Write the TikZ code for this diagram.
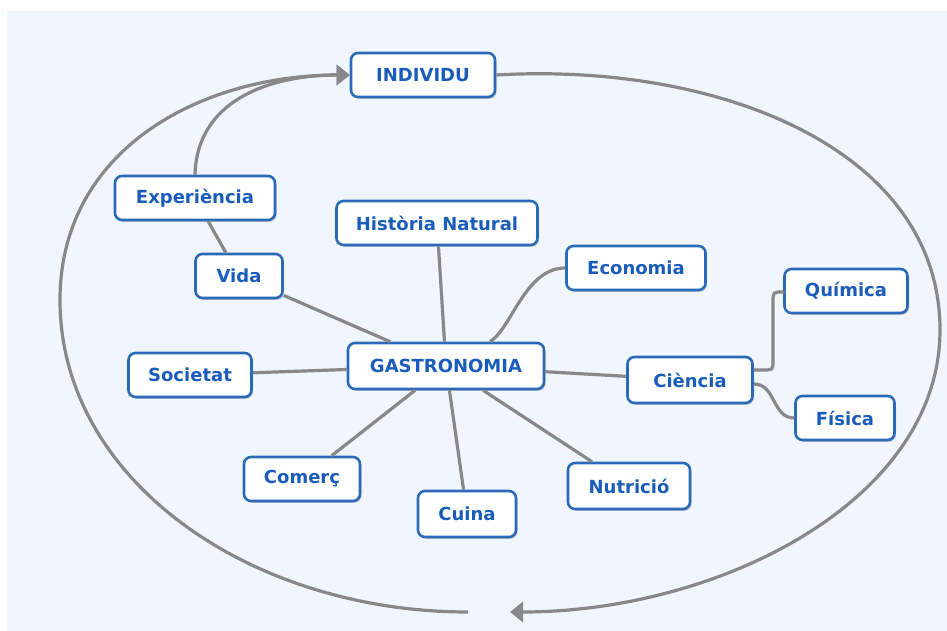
\documentclass[tikz,border=0pt]{standalone}
\usepackage{fontspec}
\setmainfont{DejaVu Sans}
\usetikzlibrary{arrows.meta,shadows}
\definecolor{bgc}{RGB}{241,245,254}
\definecolor{txt}{RGB}{26,92,186}
\definecolor{brd}{RGB}{42,106,182}
\definecolor{lnk}{RGB}{136,136,138}
\begin{document}
\begin{tikzpicture}[x=1pt,y=-1pt,
 box/.style={draw=brd, line width=2.6pt, fill=white, rounded corners=7pt, minimum height=44pt, inner sep=0pt, text=txt, font=\fontsize{18}{21}\selectfont\bfseries, drop shadow={shadow xshift=1.5pt, shadow yshift=-1.8pt, opacity=0.45, fill=black!45}},
 link/.style={draw=lnk, line width=3.2pt},
 arrowhd/.style={-{Triangle[length=13pt,width=20pt]}}]
\useasboundingbox (0,0) rectangle (947,631);
\fill[white] (0,0) rectangle (947,631);
\fill[bgc] (7,11) rectangle (947,631);
% nodes
\node[box,minimum width=144pt] (ind) at (423,75) {INDIVIDU};
\node[box,minimum width=160pt] (exp) at (195,198) {Experiència};
\node[box,minimum width=87pt] (vid) at (239,276) {Vida};
\node[box,minimum width=201pt] (his) at (437,223) {Història Natural};
\node[box,minimum width=139pt] (eco) at (636,268) {Economia};
\node[box,minimum width=123pt] (qui) at (846,291) {Química};
\node[box,minimum width=123pt] (soc) at (190,375) {Societat};
\node[box,minimum width=196pt,minimum height=46pt] (gas) at (446,366) {GASTRONOMIA};
\node[box,minimum width=125pt,minimum height=46pt] (cie) at (690,380) {Ciència};
\node[box,minimum width=99pt] (fis) at (845,418) {Física};
\node[box,minimum width=116pt] (com) at (302,479) {Comerç};
\node[box,minimum width=98pt,minimum height=46pt] (cui) at (467,514) {Cuina};
\node[box,minimum width=122pt,minimum height=46pt] (nut) at (629,486) {Nutrició};
\coordinate (tipb) at (510,612);
\coordinate (startb) at (468,612);
% connectors
\draw[link] (exp) -- (vid);
\draw[link] (vid) -- (gas);
\draw[link] (his) -- (gas);
\draw[link] (soc) -- (gas);
\draw[link] (cie) -- (gas);
\draw[link] (com) -- (gas);
\draw[link] (cui) -- (gas);
\draw[link] (nut) -- (gas);
\draw[link] ([xshift=44pt]gas.north) .. controls (512,328) and (525,268) .. (eco.west);
\draw[link] ([yshift=10pt]cie.east) -- (763,370) .. controls (773,370) .. (773,360) -- (773,302) .. controls (773,292) .. (783,292) -- (qui.west);
\draw[link] ([yshift=-4pt]cie.east) .. controls (776,384) and (772,418) .. (fis.west);
\draw[link,arrowhd] (exp.north) .. controls (197,100) and (270,75) .. (ind.west);
\draw[link,arrowhd] (ind.east) .. controls (720,62) and (940,150) .. (940,330) .. controls (940,500) and (720,612) .. (tipb);
\draw[link,arrowhd] (startb) .. controls (250,612) and (60,480) .. (60,300) .. controls (60,150) and (200,75) .. (ind.west);
\end{tikzpicture}
\end{document}
